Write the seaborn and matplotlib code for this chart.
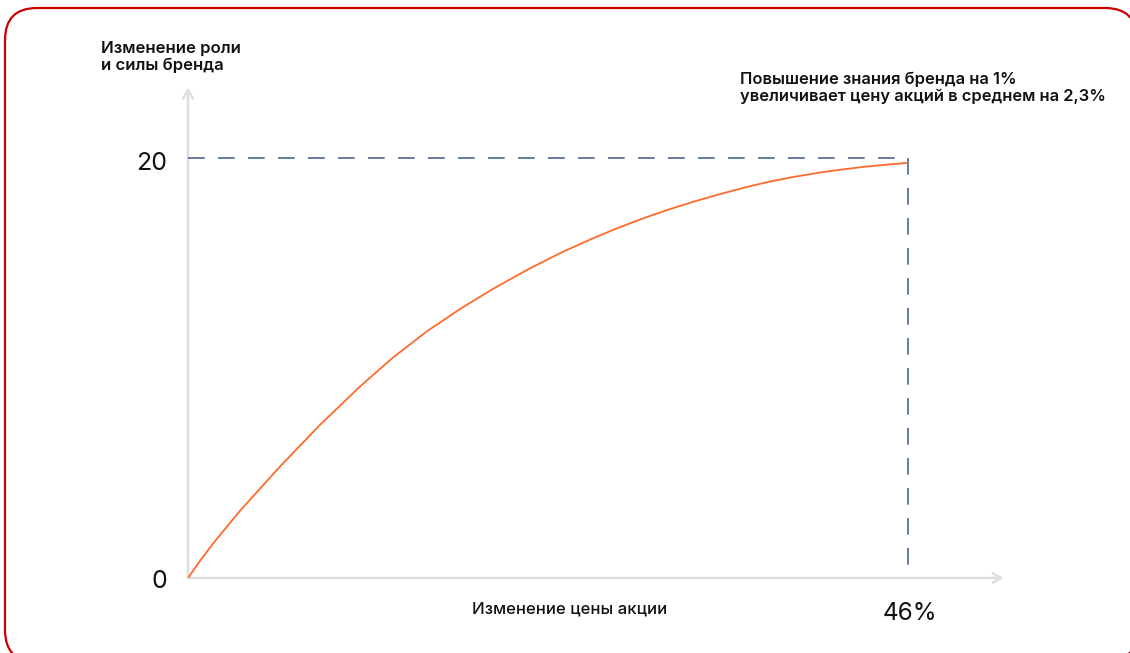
"""Brand strength vs share price change curve."""

import pandas as pd
import seaborn as sns
import matplotlib.pyplot as plt
from matplotlib.patches import FancyBboxPatch

# Data
price_change = [0, 0.77, 1.6, 3.32, 5.88, 8.43, 10.99, 13.1, 15.27, 17.38,
                19.49, 21.66, 23.77, 25.88, 27.6, 29.2, 30.8, 32.39, 33.99,
                35.59, 37.18, 38.78, 40.38, 41.78, 43.19, 44.6, 46]
brand_strength = [0, 0.82, 1.64, 3.2, 5.31, 7.29, 9.12, 10.5, 11.75, 12.81,
                  13.77, 14.67, 15.47, 16.18, 16.71, 17.16, 17.57, 17.94,
                  18.28, 18.6, 18.88, 19.11, 19.31, 19.45, 19.58, 19.68, 19.77]
x_max = 46
y_max = 20

y_title = "Изменение роли\nи силы бренда"
x_title = "Изменение цены акции"
note = "Повышение знания бренда на 1%\nувеличивает цену акций в среднем на 2,3%"

sns.set_style("white")
plt.rcParams["font.family"] = ["Inter", "DejaVu Sans"]

W, H = 1130, 653
fig = plt.figure(figsize=(W / 100, H / 100), dpi=100)

# Background layer in pixel coordinates (y measured from the bottom)
bg = fig.add_axes([0, 0, 1, 1])
bg.set_xlim(0, W)
bg.set_ylim(0, H)
bg.axis("off")
# rounded red frame, flattened to a polyline so that clipping at the edge is clean
frame = FancyBboxPatch((5, H - 662), 1132, 654,
                       boxstyle="round,pad=0,rounding_size=32")
for poly in frame.get_path().to_polygons(closed_only=False):
    bg.plot(poly[:, 0], poly[:, 1], color="#cc0000", linewidth=1.6,
            solid_joinstyle="round")

dark = "#111111"
bg.text(101, H - 57, y_title, fontsize=12, fontweight="semibold", va="center",
        linespacing=1.1, color=dark)
bg.text(740, H - 88, note, fontsize=11.9, fontweight="semibold", va="center",
        linespacing=1.14, color=dark)
bg.text(570, H - 609, x_title, fontsize=12, fontweight="medium", ha="center",
        va="center", color=dark)
bg.text(167, H - 163, "20", fontsize=18, ha="right", va="center", color=dark)
bg.text(167, H - 582, "0", fontsize=18, ha="right", va="center", color=dark)
bg.text(910, H - 613, "46%", fontsize=17.5, ha="center", va="center", color=dark)

# Main plot area: x 0..46 -> px 188..908, y 0..20 -> px 578..158
ax = fig.add_axes([188 / W, (H - 578) / H, 720 / W, 420 / H])
ax.patch.set_alpha(0)
df = pd.DataFrame({"x": price_change, "y": brand_strength})
sns.lineplot(data=df, x="x", y="y", ax=ax, color="#ff6a2b", linewidth=1.3,
             zorder=3)
ax.set_xlim(0, x_max)
ax.set_ylim(0, y_max)
ax.set_xticks([])
ax.set_yticks([])
ax.set_xlabel("")
ax.set_ylabel("")
for s in ax.spines.values():
    s.set_visible(False)

# Axis arrows
arrow = dict(arrowstyle="->,head_length=0.6,head_width=0.35", color="#dddddd",
             linewidth=1.8, shrinkA=0, shrinkB=0)
ax.annotate("", xy=(52.1, 0), xytext=(0, 0), arrowprops=arrow,
            annotation_clip=False, zorder=1)
ax.annotate("", xy=(0, 23.35), xytext=(0, 0), arrowprops=arrow,
            annotation_clip=False, zorder=1)

# Dashed guide lines
ax.plot([0, x_max], [y_max, y_max], color="#4a6690", linewidth=1.2,
        dashes=(10, 8), clip_on=False, zorder=2)
ax.plot([x_max, x_max], [y_max, 0], color="#4a6690", linewidth=1.2,
        dashes=(10, 8), clip_on=False, zorder=2)

plt.savefig("out.png", dpi=100)
